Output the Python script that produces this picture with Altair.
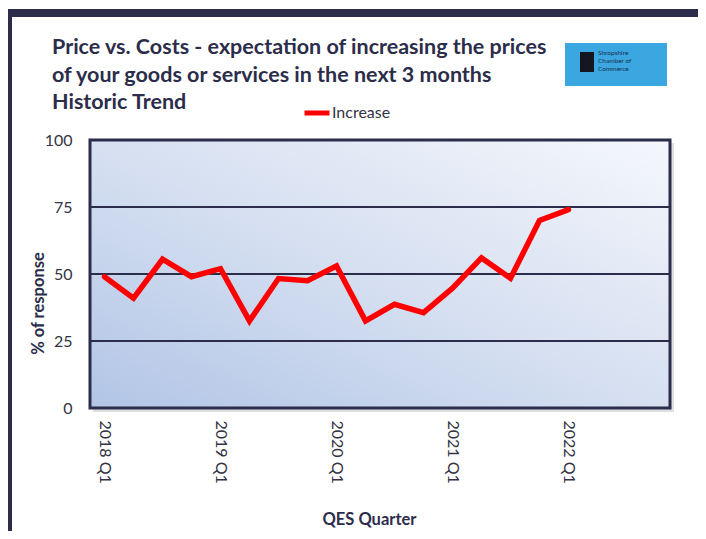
import altair as alt
import pandas as pd

quarters = [f"{y} Q{q}" for y in range(2018, 2023) for q in range(1, 5)]
values = [49.0, 41.0, 55.5, 49.0, 52.0, 32.5, 48.3, 47.5, 53.0, 32.5,
          38.7, 35.6, 44.7, 56.0, 48.4, 70.0, 74.0]
series = ["Increase"] * len(values)
gridlines = [25, 50, 75]
y_ticks = [0, 25, 50, 75, 100]
x_labels = ["2018 Q1", "2019 Q1", "2020 Q1", "2021 Q1", "2022 Q1"]
title_lines = ["Price vs. Costs - expectation of increasing the prices",
               "of your goods or services in the next 3 months",
               "Historic Trend"]
logo_lines = ["Shropshire", "Chamber of", "Commerce"]

NAVY = "#2b2d4a"
TXT = "#333344"
FONT = "Lato"
W, H = 580, 268

line_df = pd.DataFrame({"quarter": quarters[:len(values)], "value": values, "series": series})
grid_df = pd.DataFrame({"v": gridlines})
title_df = pd.DataFrame({"t": title_lines, "i": [0, 1, 2]})
logo_df = pd.DataFrame({"t": logo_lines, "i": [0, 1, 2]})

xscale = alt.Scale(type="point", domain=quarters, padding=0.5)
yscale = alt.Scale(domain=[0, 100])

# decorative frame
top_band = alt.Chart().mark_rect(color=NAVY).encode(
    x=alt.value(-82), x2=alt.value(608), y=alt.value(-131), y2=alt.value(-123))
left_band = alt.Chart().mark_rect(color=NAVY).encode(
    x=alt.value(-82), x2=alt.value(-78), y=alt.value(-131), y2=alt.value(391))

shadow = alt.Chart().mark_rect(color="#c8c8d0", opacity=0.6).encode(
    x=alt.value(3), x2=alt.value(W + 4), y=alt.value(3), y2=alt.value(H + 4))

bg = alt.Chart().mark_rect(
    fill=alt.Gradient(gradient="linear",
                      stops=[alt.GradientStop(color="#b2c5e6", offset=0),
                             alt.GradientStop(color="#d6e0f1", offset=0.5),
                             alt.GradientStop(color="#f5f7fc", offset=1)],
                      x1=0, y1=1, x2=1, y2=0)
).encode(x=alt.value(0), x2=alt.value(W), y=alt.value(0), y2=alt.value(H))

grid = alt.Chart(grid_df).mark_rule(color=NAVY, strokeWidth=2).encode(
    y=alt.Y("v:Q", scale=yscale, axis=None),
    x=alt.value(0), x2=alt.value(W))

border = alt.Chart().mark_rect(fill=None, stroke=NAVY, strokeWidth=3).encode(
    x=alt.value(0), x2=alt.value(W), y=alt.value(0), y2=alt.value(H))

line = alt.Chart(line_df).mark_line(strokeWidth=5.5, strokeCap="round", strokeJoin="miter").encode(
    x=alt.X("quarter:O", scale=xscale,
            axis=alt.Axis(values=x_labels, labelAngle=90, labelAlign="left", labelBaseline="middle",
                          labelPadding=12, labelFontSize=16, labelColor=TXT, labelFont=FONT,
                          domain=False, ticks=False, grid=False,
                          title="QES Quarter", titleFont=FONT, titleFontSize=16.5, titleFontWeight="bold",
                          titleColor=NAVY, titleX=279, titleY=111, titleAlign="center",
                          titleBaseline="middle")),
    y=alt.Y("value:Q", scale=yscale,
            axis=alt.Axis(values=y_ticks, domain=False, ticks=False, grid=False,
                          labelPadding=18, labelFontSize=16, labelColor=TXT, labelFont=FONT,
                          title="% of response", titleFont=FONT, titleFontSize=16.5, titleFontWeight="bold",
                          titleColor=NAVY, titleX=-52, titleY=163, titleAngle=270,
                          titleAlign="center", titleBaseline="middle")),
    color=alt.Color("series:N", scale=alt.Scale(range=["#ff0000"]),
                    legend=alt.Legend(orient="none", legendX=212, legendY=-42, title=None,
                                      symbolType="stroke", symbolStrokeWidth=5, symbolSize=625,
                                      labelFontSize=16, labelFont=FONT, labelColor=TXT,
                                      labelOffset=0, padding=0)),
)

titles = alt.Chart(title_df).mark_text(align="left", baseline="middle", font=FONT, fontSize=21.5,
                                       fontWeight="bold", color=NAVY).encode(
    text="t:N",
    x=alt.value(-38),
    y=alt.Y("i:O", scale=alt.Scale(type="point", domain=[0, 1, 2], range=[-92, -37], padding=0),
            axis=None))

logo = alt.Chart().mark_rect(color="#3aa7e0").encode(
    x=alt.value(475), x2=alt.value(577), y=alt.value(-97), y2=alt.value(-54))
logo_mark = alt.Chart().mark_rect(color="#15161f").encode(
    x=alt.value(490), x2=alt.value(504), y=alt.value(-88), y2=alt.value(-68))
logo_text = alt.Chart(logo_df).mark_text(align="left", baseline="middle", font=FONT, fontSize=6.5,
                                         color="#1d3050").encode(
    text="t:N",
    x=alt.value(508),
    y=alt.Y("i:O", scale=alt.Scale(type="point", domain=[0, 1, 2], range=[-87, -71], padding=0),
            axis=None))

chart = alt.layer(top_band, left_band, shadow, bg, grid, border, line, titles,
                  logo, logo_mark, logo_text).properties(
    width=W, height=H,
    autosize=alt.AutoSizeParams(type="none"),
    padding={"left": 82, "top": 132, "right": 28, "bottom": 123},
).resolve_scale(y="shared").configure_view(stroke=None).configure(background="white")

chart.save("out.html", embed_options={"renderer": "svg", "actions": False})
